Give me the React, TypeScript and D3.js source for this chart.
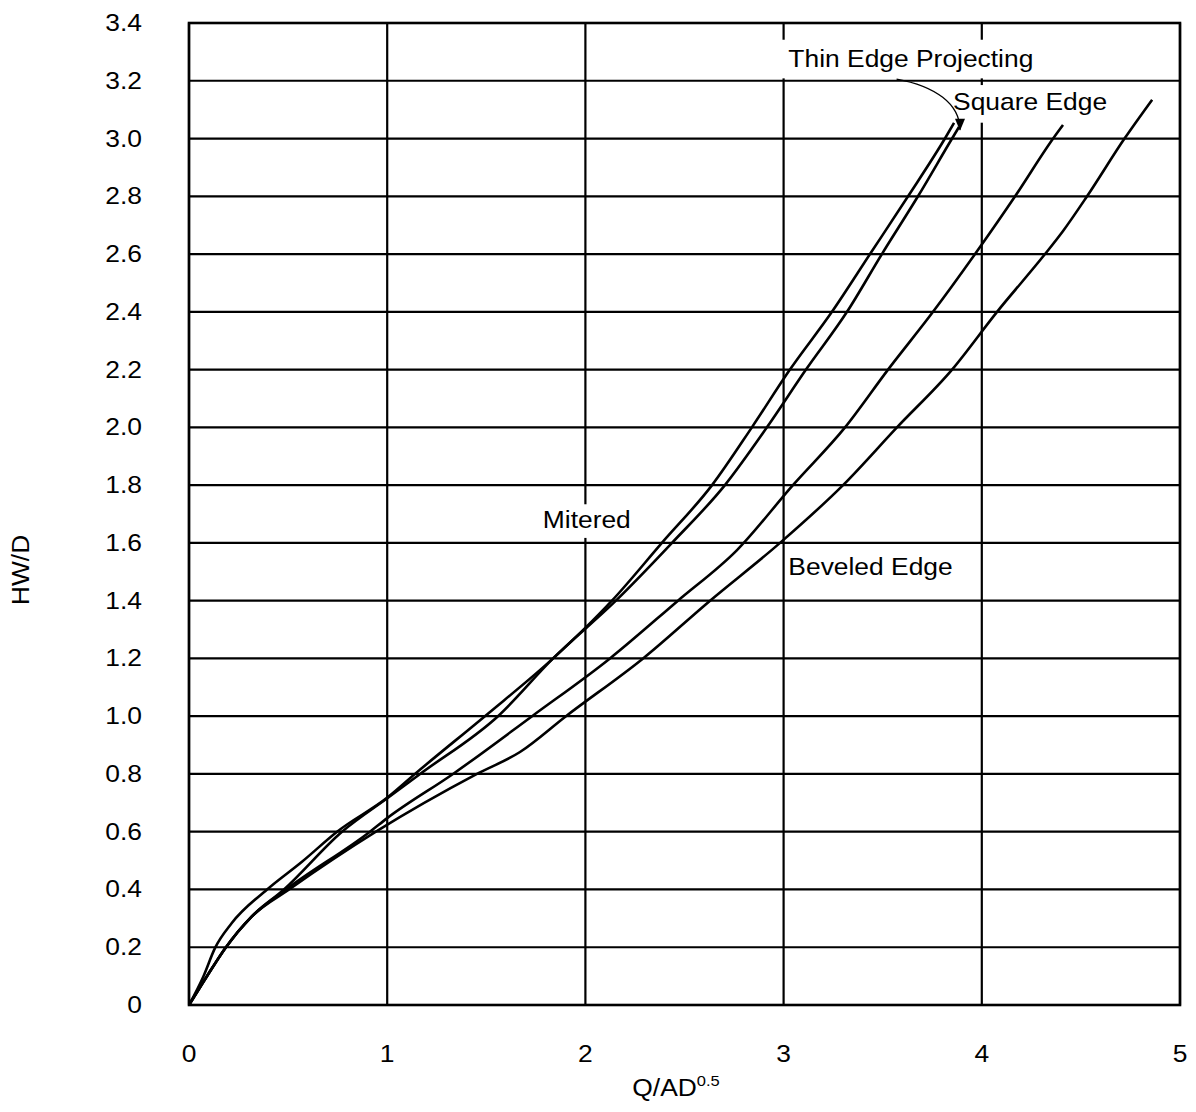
import React, { useEffect, useRef } from "react";
import * as d3 from "d3";

// ---- axes ----
const xTicks = [0, 1, 2, 3, 4, 5];
const xTickLabels = ["0", "1", "2", "3", "4", "5"];
const yTicks = [0, 0.2, 0.4, 0.6, 0.8, 1.0, 1.2, 1.4, 1.6, 1.8, 2.0, 2.2, 2.4, 2.6, 2.8, 3.0, 3.2, 3.4];
const yTickLabels = ["0", "0.2", "0.4", "0.6", "0.8", "1.0", "1.2", "1.4", "1.6", "1.8", "2.0", "2.2", "2.4", "2.6", "2.8", "3.0", "3.2", "3.4"];

// ---- series (Q/AD^0.5 , HW/D) ----
const thinEdgeX = [0, 0.072, 0.131, 0.215, 0.394, 0.57, 0.747, 1.004, 1.14, 1.493, 1.837, 2.134, 2.386, 2.639, 2.84, 3.032, 3.244, 3.436, 3.628, 3.814, 3.86];
const thinEdgeY = [0, 0.098, 0.197, 0.283, 0.4, 0.496, 0.6, 0.72, 0.8, 1.0, 1.2, 1.4, 1.6, 1.8, 2.0, 2.2, 2.4, 2.6, 2.8, 3.0, 3.054];

const miteredX = [0, 0.089, 0.182, 0.316, 0.479, 0.772, 1.009, 1.166, 1.559, 1.837, 2.154, 2.437, 2.704, 2.916, 3.113, 3.32, 3.496, 3.678, 3.85, 3.885];
const miteredY = [0, 0.098, 0.196, 0.306, 0.4, 0.6, 0.72, 0.8, 1.0, 1.2, 1.4, 1.6, 1.8, 2.0, 2.2, 2.4, 2.6, 2.8, 3.0, 3.04];

const squareX = [0, 0.089, 0.182, 0.316, 0.49, 0.913, 1.0, 1.332, 1.731, 2.124, 2.467, 2.765, 3.047, 3.31, 3.527, 3.754, 3.966, 4.168, 4.36, 4.41];
const squareY = [0, 0.098, 0.196, 0.306, 0.4, 0.6, 0.647, 0.8, 1.0, 1.2, 1.4, 1.575, 1.8, 2.0, 2.2, 2.4, 2.6, 2.8, 3.0, 3.047];

const beveledX = [0, 0.089, 0.182, 0.316, 0.505, 0.943, 1.453, 1.67, 1.902, 2.291, 2.629, 2.982, 3.3, 3.572, 3.85, 4.077, 4.319, 4.41, 4.531, 4.72, 4.859];
const beveledY = [0, 0.098, 0.196, 0.306, 0.4, 0.6, 0.8, 0.876, 1.0, 1.2, 1.4, 1.6, 1.8, 2.0, 2.2, 2.4, 2.6, 2.68, 2.8, 3.0, 3.134];

// ---- annotation labels (data coords of text start / baseline) ----
const labelTexts = ["Thin Edge Projecting", "Square Edge", "Mitered", "Beveled Edge"];
const labelX = [3.024, 3.855, 1.785, 3.024];
const labelY = [3.249, 3.099, 1.651, 1.489];

const FONT = "'Liberation Sans', Arial, Helvetica, sans-serif";

export default function App() {
  const ref = useRef<SVGSVGElement>(null);

  useEffect(() => {
    const svg = d3.select(ref.current);
    svg.selectAll("*").remove();

    const x = d3.scaleLinear().domain([0, 5]).range([189, 1180]);
    const y = d3.scaleLinear().domain([0, 3.4]).range([1005, 23]);

    const defs = svg.append("defs");
    defs
      .append("marker")
      .attr("id", "arrowHead")
      .attr("viewBox", "0 0 12 10")
      .attr("refX", 11)
      .attr("refY", 5)
      .attr("markerWidth", 13)
      .attr("markerHeight", 10)
      .attr("markerUnits", "userSpaceOnUse")
      .attr("orient", "auto")
      .append("path")
      .attr("d", "M0,0 L12,5 L0,10 Z")
      .attr("fill", "#000");

    svg.append("rect").attr("width", 1196).attr("height", 1112).attr("fill", "#fff");

    // grid
    const grid = svg.append("g");
    grid
      .selectAll(".h")
      .data(yTicks)
      .join("line")
      .attr("class", "h")
      .attr("x1", x(0))
      .attr("x2", x(5))
      .attr("y1", (d) => y(d))
      .attr("y2", (d) => y(d))
      .attr("stroke", "#000")
      .attr("stroke-width", 2.2);
    grid
      .selectAll(".v")
      .data(xTicks)
      .join("line")
      .attr("class", "v")
      .attr("x1", (d) => x(d))
      .attr("x2", (d) => x(d))
      .attr("y1", y(0))
      .attr("y2", y(3.4))
      .attr("stroke", "#000")
      .attr("stroke-width", 2.2);

    svg
      .append("rect")
      .attr("x", x(0))
      .attr("y", y(3.4))
      .attr("width", x(5) - x(0))
      .attr("height", y(0) - y(3.4))
      .attr("fill", "none")
      .attr("stroke", "#000")
      .attr("stroke-width", 2.6);

    const addText = (
      parent: any,
      txt: string,
      tx: number,
      ty: number,
      anchor: string,
      size = 24,
      rotate = 0
    ) => {
      const g = parent
        .append("g")
        .attr("transform", `translate(${tx},${ty}) rotate(${rotate}) scale(1.1,1)`);
      const t = g
        .append("text")
        .attr("x", 0)
        .attr("y", 0)
        .attr("text-anchor", anchor)
        .attr("font-family", FONT)
        .attr("font-size", size)
        .attr("fill", "#000")
        .text(txt);
      return { g, t };
    };

    // tick labels
    yTicks.forEach((v, i) => addText(svg, yTickLabels[i], 142, y(v) + 8, "end"));
    xTicks.forEach((v, i) => addText(svg, xTickLabels[i], x(v), 1062, "middle"));

    // axis titles
    addText(svg, "HW/D", 29, 570, "middle", 24, -90);
    const xt = svg
      .append("g")
      .attr("transform", `translate(676,1096) scale(1.1,1)`)
      .append("text")
      .attr("text-anchor", "middle")
      .attr("font-family", FONT)
      .attr("font-size", 24)
      .attr("fill", "#000");
    xt.append("tspan").text("Q/AD");
    xt.append("tspan").attr("font-size", 15).attr("dy", -10).text("0.5");

    // annotation labels with white backgrounds (breaking grid lines)
    const pads: [number, number, number, number][] = [
      [7, 5, 4, 7],
      [6, 3, 6, 8],
      [5, 2, 5, 5],
      [0, 0, 0, 0],
    ];
    const labelLayer = svg.append("g");
    labelTexts.forEach((txt, i) => {
      const { g, t } = addText(labelLayer, txt, x(labelX[i]), y(labelY[i]), "start");
      if (i < 3) {
        const bb = (t.node() as SVGTextElement).getBBox();
        const [pl, pt, pr, pb] = pads[i];
        g.insert("rect", "text")
          .attr("x", bb.x - pl / 1.1)
          .attr("y", bb.y - pt)
          .attr("width", bb.width + (pl + pr) / 1.1)
          .attr("height", bb.height + pt + pb)
          .attr("fill", "#fff");
      }
    });

    // curves
    const line = d3
      .line<[number, number]>()
      .x((d) => x(d[0]))
      .y((d) => y(d[1]))
      .curve(d3.curveMonotoneX);

    const series = [
      [thinEdgeX, thinEdgeY],
      [miteredX, miteredY],
      [squareX, squareY],
      [beveledX, beveledY],
    ];
    svg
      .append("g")
      .selectAll("path")
      .data(series)
      .join("path")
      .attr("d", (s) => line(d3.zip(s[0], s[1]) as [number, number][]))
      .attr("fill", "none")
      .attr("stroke", "#000")
      .attr("stroke-width", 2.6)
      .attr("stroke-linejoin", "round");

    // leader arrow from "Thin Edge Projecting" to curve end
    const p = d3.path();
    p.moveTo(x(3.57), y(3.206));
    p.bezierCurveTo(x(3.764), y(3.182), x(3.89), y(3.12), x(3.89), y(3.03));
    svg
      .append("path")
      .attr("d", p.toString())
      .attr("fill", "none")
      .attr("stroke", "#000")
      .attr("stroke-width", 1.3)
      .attr("marker-end", "url(#arrowHead)");
  }, []);

  return (
    <svg
      ref={ref}
      width={1196}
      height={1112}
      style={{ position: "absolute", left: 0, top: 0, display: "block" }}
    />
  );
}
